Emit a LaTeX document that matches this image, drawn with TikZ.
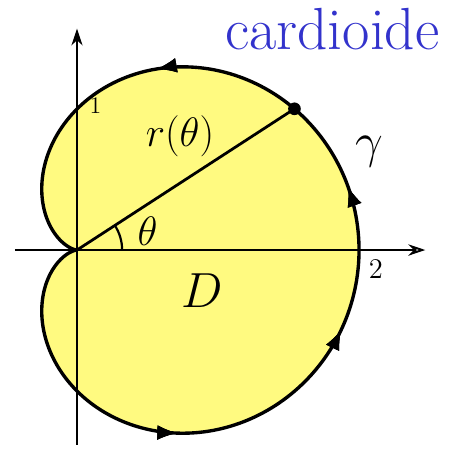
\documentclass[tikz,border=0pt]{standalone}
\usepackage{amsmath, amssymb}
\usetikzlibrary{arrows.meta, calc, decorations.markings}
\definecolor{cardyellow}{RGB}{255, 250, 128}
\definecolor{titleblue}{RGB}{51, 51, 204}
\tikzset{
  >=Stealth,
  axisline/.style={line width=1pt, black},
  curveline/.style={line width=1.7pt, black, fill=cardyellow, line join=round},
  marktip/.style={decoration={markings, mark=at position #1 with {\arrow{Latex[length=3.4mm, width=2.6mm]}}}, postaction={decorate}},
  lbl/.style={inner sep=0pt}
}

\begin{document}
\begin{tikzpicture}[x=2.5cm, y=2.5cm]
    \useasboundingbox (-0.546, -1.418) rectangle (2.723, 1.773);

    % cardioid r = 1 + cos(theta)
    \draw[curveline] plot[domain=0:360, samples=361]
        ({(1+cos(\x))*cos(\x)}, {(1+cos(\x))*sin(\x)}) -- cycle;

    % orientation marks (upper and lower half, cusp left out)
    \path[marktip=0.114, marktip=0.547] plot[domain=0:170, samples=86]
        ({(1+cos(\x))*cos(\x)}, {(1+cos(\x))*sin(\x)});
    \path[marktip=0.487, marktip=0.852] plot[domain=190:360, samples=86]
        ({(1+cos(\x))*cos(\x)}, {(1+cos(\x))*sin(\x)});

    % axes
    \coordinate (O) at (0, 0);
    \coordinate (xs) at (-0.44, 0);
    \coordinate (xe) at (2.47, 0);
    \coordinate (ys) at (0, -1.38);
    \coordinate (ye) at (0, 1.57);
    \draw[axisline, -{Stealth[open, length=3mm, width=2mm]}] (xs) -- (xe);
    \draw[axisline, -{Stealth[length=3mm, width=2mm]}] (ys) -- (ye);

    % radius to a point of the curve
    \coordinate (P) at (33:{1+cos(33)});
    \draw[line width=1.4pt] (O) -- (P);
    \fill (P) circle (0.045);
    \draw[line width=1.1pt] (0.32, 0) arc (0:33:0.32);

    % labels
    \node[lbl, font=\fontsize{22}{24}\selectfont] (rlab) at (0.73, 0.81) {$r(\theta)$};
    \node[lbl, font=\fontsize{20}{22}\selectfont] (tlab) at (0.50, 0.13) {$\theta$};
    \node[lbl, font=\fontsize{13}{15}\selectfont] (one) at (0.13, 1.02) {$1$};
    \node[lbl, font=\fontsize{14}{16}\selectfont] (two) at (2.12, -0.135) {$2$};
    \node[lbl, font=\fontsize{31}{33}\selectfont] (glab) at (2.07, 0.70) {$\gamma$};
    \node[lbl, font=\fontsize{26}{28}\selectfont] (dlab) at (0.89, -0.29) {$D$};
    \node[lbl, font=\fontsize{30}{32}\selectfont, text=titleblue] (title) at (1.81, 1.57) {cardioide};
\end{tikzpicture}
\end{document}
